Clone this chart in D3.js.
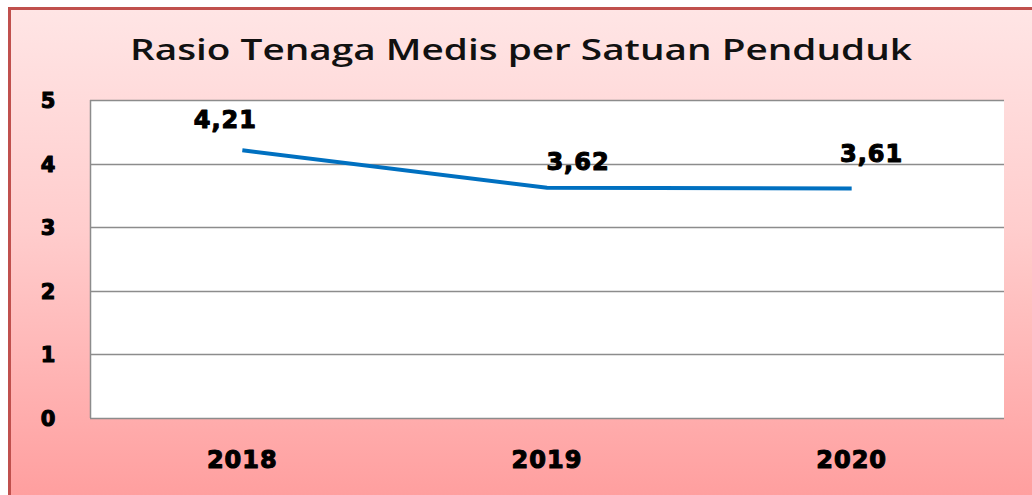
<!DOCTYPE html>
<html>
<head>
<meta charset="utf-8">
<script src="https://cdn.jsdelivr.net/npm/d3@7"></script>
<style>
  html, body { margin: 0; padding: 0; background: #fff; }
  svg { display: block; }
</style>
</head>
<body>
<div class="chart"></div>
<script>
/*
    Data
*/
const years = ["2018", "2019", "2020"];
const ratios = [4.21, 3.62, 3.61];
const ratio_labels = ["4,21", "3,62", "3,61"];
const y_ticks = [0, 1, 2, 3, 4, 5];
const chart_title = "Rasio Tenaga Medis per Satuan Penduduk";

// label nudges, as in the original office chart
const label_offsets = [[-17, -22], [31, -18], [20, -26]];

/*
    Configuration
*/
const width = 1032, height = 495;
const plot = { left: 90, top: 100, right: 1004, bottom: 418 };

const svg = d3.select(".chart").append("svg")
    .attr("width", width)
    .attr("height", height);

const defs = svg.append("defs");
const grad = defs.append("linearGradient")
    .attr("id", "bg")
    .attr("x1", 0).attr("y1", 0).attr("x2", 0).attr("y2", 1);
grad.append("stop").attr("offset", "0%").attr("stop-color", "#ffe5e5");
grad.append("stop").attr("offset", "45%").attr("stop-color", "#ffcdcd");
grad.append("stop").attr("offset", "100%").attr("stop-color", "#ff9f9f");

// frame
svg.append("rect")
    .attr("x", 11).attr("y", 10)
    .attr("width", width - 11).attr("height", height - 10)
    .attr("fill", "url(#bg)");
svg.append("line")
    .attr("x1", 9.5).attr("x2", 9.5).attr("y1", 7).attr("y2", height)
    .attr("stroke", "#c0504d").attr("stroke-width", 3);
svg.append("line")
    .attr("x1", 8).attr("x2", width).attr("y1", 8.5).attr("y2", 8.5)
    .attr("stroke", "#c0504d").attr("stroke-width", 3);

// title
svg.append("text")
    .attr("x", 130).attr("y", 60)
    .attr("textLength", 782)
    .attr("lengthAdjust", "spacingAndGlyphs")
    .attr("font-family", "'Open Sans', sans-serif")
    .attr("font-weight", 600)
    .attr("font-size", 29)
    .attr("fill", "#111")
    .text(chart_title);

/* Scales */
const xScale = d3.scaleBand()
    .domain(years)
    .range([plot.left, plot.right]);

const yScale = d3.scaleLinear()
    .domain([0, 5])
    .range([plot.bottom, plot.top]);

// plot area
svg.append("rect")
    .attr("x", plot.left).attr("y", plot.top)
    .attr("width", plot.right - plot.left)
    .attr("height", plot.bottom - plot.top)
    .attr("fill", "#fff");

// gridlines
svg.append("g")
    .selectAll("line")
    .data(y_ticks)
    .enter().append("line")
    .attr("x1", plot.left).attr("x2", plot.right)
    .attr("y1", d => Math.round(yScale(d)) + 0.5)
    .attr("y2", d => Math.round(yScale(d)) + 0.5)
    .attr("stroke", "#8c8c8c").attr("stroke-width", 1.5);

svg.append("line")
    .attr("x1", plot.left + 0.5).attr("x2", plot.left + 0.5)
    .attr("y1", plot.top).attr("y2", plot.bottom)
    .attr("stroke", "#8c8c8c").attr("stroke-width", 1.5);

// heavy black text, close to Arial Black
function heavy(sel, size) {
    sel.attr("font-family", "'DejaVu Sans', sans-serif")
        .attr("font-weight", "bold")
        .attr("font-size", size)
        .attr("fill", "#000")
        .attr("stroke", "#000")
        .attr("stroke-width", 1.1)
        .attr("stroke-linejoin", "round");
}

// y axis labels
svg.append("g")
    .selectAll("text")
    .data(y_ticks)
    .enter().append("text")
    .attr("x", 48)
    .attr("y", d => yScale(d) + 8)
    .attr("text-anchor", "middle")
    .call(heavy, 21)
    .text(d => d);

// x axis labels
svg.append("g")
    .selectAll("text")
    .data(years)
    .enter().append("text")
    .attr("x", d => xScale(d) + xScale.bandwidth() / 2)
    .attr("y", 468)
    .attr("text-anchor", "middle")
    .call(heavy, 24)
    .attr("letter-spacing", 1)
    .text(d => d);

/* Line */
const points = years.map((y, i) => ({ year: y, value: ratios[i], label: ratio_labels[i], off: label_offsets[i] }));

const line = d3.line()
    .x(d => xScale(d.year) + xScale.bandwidth() / 2)
    .y(d => yScale(d.value));

svg.append("path")
    .datum(points)
    .attr("d", line)
    .attr("fill", "none")
    .attr("stroke", "#0070c0")
    .attr("stroke-width", 4);

svg.append("g")
    .selectAll("text")
    .data(points)
    .enter().append("text")
    .attr("x", d => xScale(d.year) + xScale.bandwidth() / 2 + d.off[0])
    .attr("y", d => yScale(d.value) + d.off[1])
    .attr("text-anchor", "middle")
    .call(heavy, 24)
    .attr("letter-spacing", 1)
    .text(d => d.label);
</script>
</body>
</html>
